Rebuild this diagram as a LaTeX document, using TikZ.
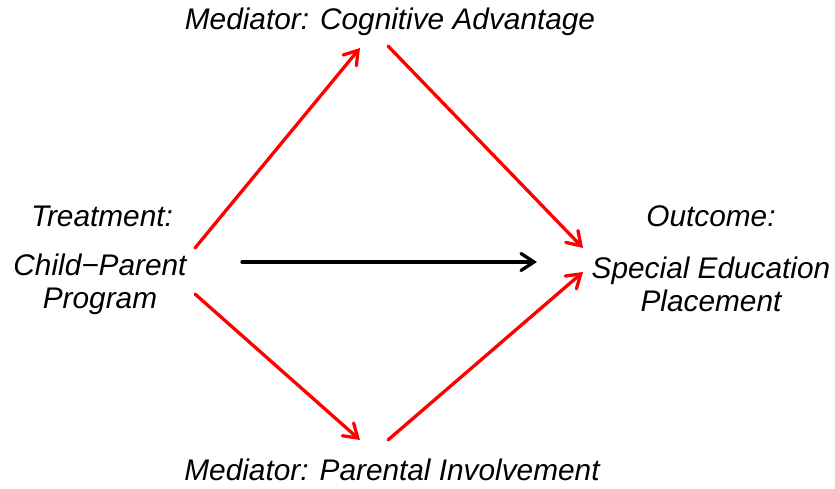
\documentclass[tikz,border=0pt]{standalone}
\usepackage{fontspec}
\setmainfont{Liberation Sans}
\usetikzlibrary{arrows.meta}
\begin{document}
\begin{tikzpicture}[x=1pt,y=-1pt,
  lbl/.style={font=\fontsize{29.8}{33}\selectfont\itshape, inner sep=0pt, align=center},
  arr/.style={line width=3.3pt, line cap=round, -{Straight Barb[length=13pt,width=17pt,line cap=round]}},
  redarr/.style={arr, draw=red},
  blkarr/.style={arr, draw=black}]
\useasboundingbox (0,0) rectangle (835,489);
% labels
\node[lbl] (med1) at (390,22) {Mediator: Cognitive Advantage};
\node[lbl] (med2) at (392,470) {Mediator: Parental Involvement};
\node[lbl] (treatlbl) at (102,216) {Treatment:};
\node[lbl] (treat) at (100,284) {Child−Parent\\Program};
\node[lbl] (outlbl) at (711,216) {Outcome:};
\node[lbl] (out) at (711,284) {Special Education\\Placement};
% connector ends
\coordinate (tA) at (195,248);
\coordinate (tB) at (195,294);
\coordinate (tC) at (242,262);
\coordinate (m1in) at (360,48);
\coordinate (m1out) at (388,46);
\coordinate (m2in) at (360,440);
\coordinate (m2out) at (388,440);
\coordinate (oA) at (583,248);
\coordinate (oB) at (583,272);
\coordinate (oC) at (537,262);
% arrows
\draw[redarr] (tA) -- (m1in);
\draw[redarr] (m1out) -- (oA);
\draw[redarr] (tB) -- (m2in);
\draw[redarr] (m2out) -- (oB);
\draw[blkarr] (tC) -- (oC);
\end{tikzpicture}
\end{document}
